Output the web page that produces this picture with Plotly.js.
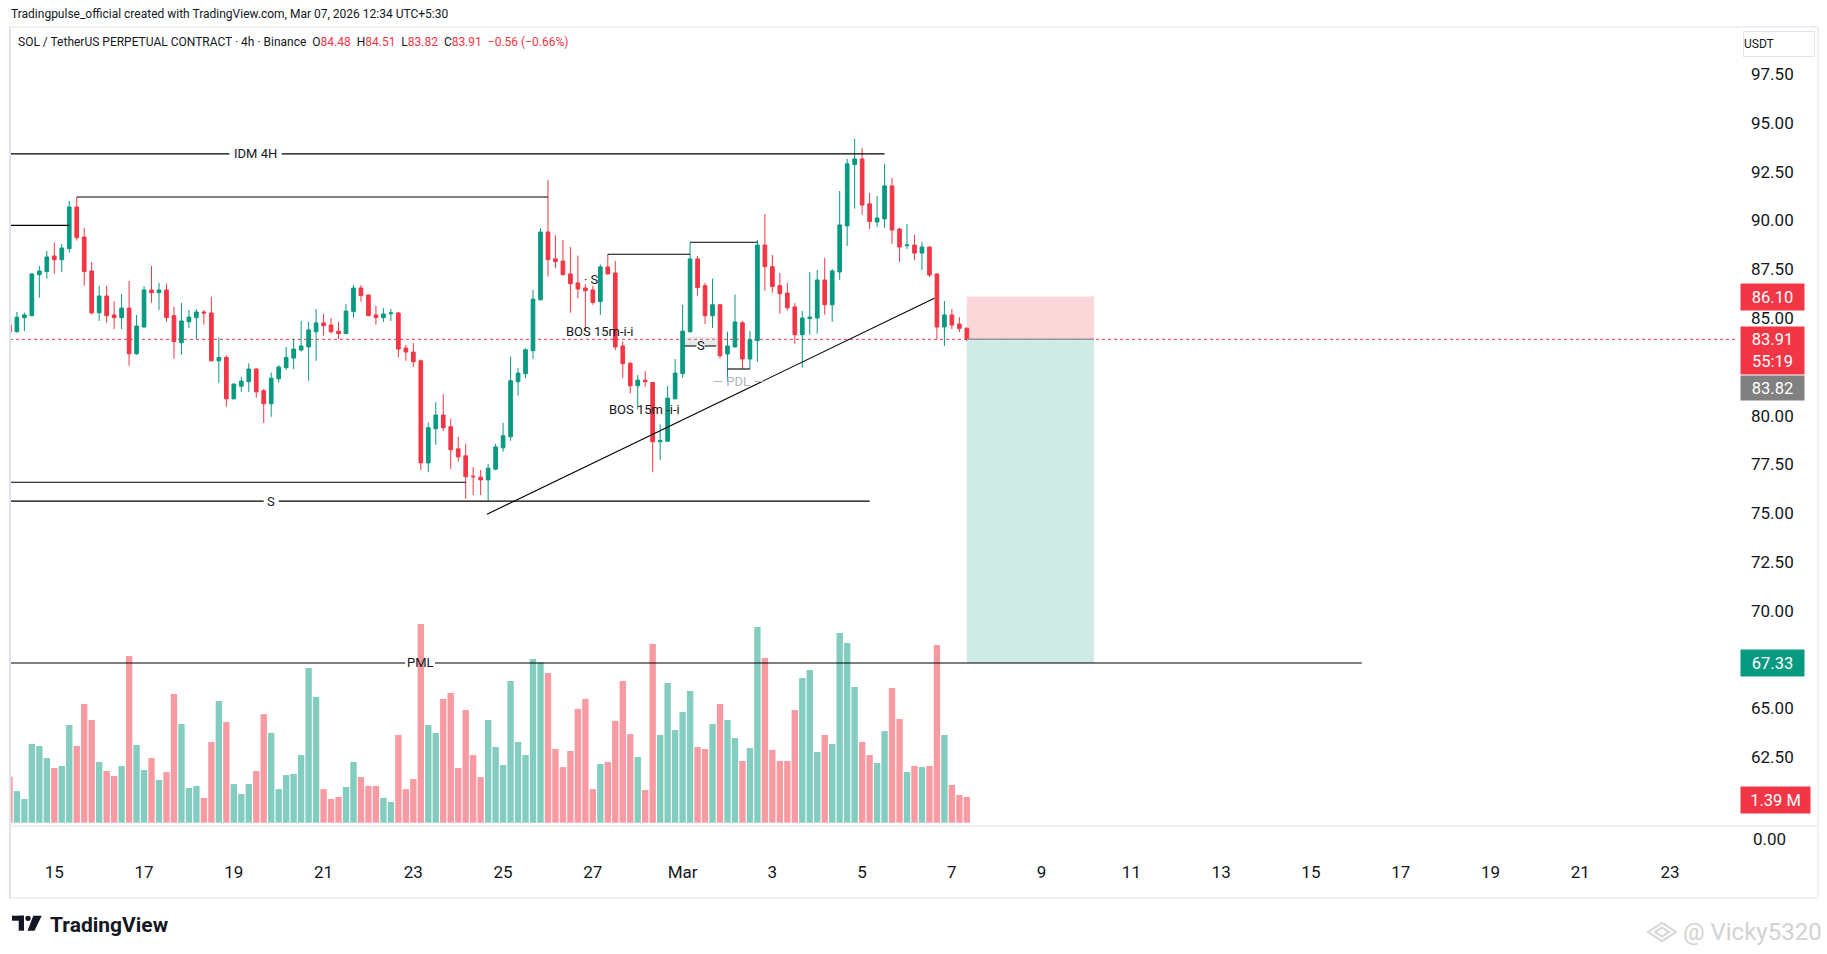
<!DOCTYPE html>
<html><head><meta charset="utf-8">
<script src="https://cdn.plot.ly/plotly-3.0.1.min.js"></script>
<style>html,body{margin:0;padding:0;background:#fff;}#chart{width:1827px;height:954px;}</style>
</head><body><div id="chart"></div>
<script>
// ---- data (SOL/USDT perpetual, 4h bars from 2026-02-14 01:30, UTC+5:30) ----
const openP = [84.64,84.30,85.02,85.12,87.22,87.38,88.18,87.99,88.56,90.69,
89.15,87.41,85.27,86.13,85.16,85.02,85.51,83.17,84.54,86.44,
86.30,86.44,85.12,83.74,84.81,85.02,85.31,85.26,82.81,82.98,
80.86,81.51,81.74,82.39,81.28,80.61,81.89,82.46,82.95,83.36,
83.52,84.30,84.75,84.64,84.33,84.20,85.33,86.54,86.18,85.16,
85.02,85.22,85.26,83.46,83.26,82.81,77.58,79.33,80.03,79.43,
78.30,77.94,76.90,76.85,76.71,77.26,78.35,78.92,81.74,82.15,
83.33,85.94,89.41,88.03,87.92,87.26,86.80,86.54,86.44,85.84,
87.62,87.31,83.57,82.69,81.53,81.82,81.70,78.66,78.69,80.86,
82.15,84.30,88.03,86.66,85.12,85.68,83.16,83.52,84.76,82.90,
83.84,88.74,87.63,86.66,86.28,85.57,84.15,84.97,85.00,86.95,
85.68,87.36,89.72,92.86,93.15,90.85,89.92,90.08,91.77,89.56,
88.71,88.74,88.33,88.64,87.26,84.54,85.16,84.69,84.48];
const highP = [84.75,85.31,85.27,87.29,87.67,88.44,88.85,88.80,91.00,91.20,
89.62,87.87,86.66,86.66,85.87,86.23,86.90,85.16,86.64,87.67,
86.80,86.76,85.58,85.77,85.41,85.46,85.41,86.09,84.01,83.09,
81.64,81.99,82.68,82.42,81.36,82.21,82.59,83.52,83.92,84.85,
84.80,85.46,85.22,85.00,84.80,85.72,86.69,86.69,86.20,85.62,
85.51,85.46,85.31,83.62,83.72,82.87,79.65,80.69,81.10,79.84,
78.92,78.56,77.36,77.21,77.52,78.56,79.63,83.02,82.44,83.45,
86.44,89.60,92.08,89.24,89.00,88.64,88.20,86.73,86.66,87.75,
88.28,87.92,83.79,82.71,82.08,82.28,81.72,79.55,81.52,82.90,
85.68,88.88,88.18,86.80,87.02,85.70,84.30,86.20,84.85,84.33,
89.00,90.33,88.23,87.31,86.80,85.77,85.36,87.36,87.46,88.08,
87.51,91.51,93.15,94.18,93.72,91.41,91.26,92.90,92.18,89.62,
89.82,89.26,88.90,88.66,87.28,85.87,85.46,85.05,84.51];
const lowP = [84.20,84.25,84.33,85.10,86.04,87.02,87.27,87.36,88.35,88.97,
86.66,85.19,84.85,84.76,84.44,84.44,82.56,83.12,84.51,85.79,
85.41,84.81,82.92,83.12,84.49,83.91,84.66,82.79,81.69,80.46,
80.84,81.22,81.22,80.92,79.63,79.94,81.69,82.34,82.39,83.28,
81.79,82.81,84.10,84.20,83.92,84.18,85.02,85.84,85.10,84.66,
84.80,84.85,83.00,82.81,82.49,77.21,77.11,78.51,79.22,77.26,
77.64,75.74,75.93,75.93,75.64,77.21,78.15,78.71,81.02,81.91,
82.90,85.90,87.12,87.55,87.20,85.27,86.01,84.30,85.68,85.16,
87.24,83.36,81.94,81.14,80.32,81.48,77.12,77.72,78.66,80.84,
81.94,84.25,86.15,84.69,84.49,82.93,81.74,83.50,82.39,82.39,
82.76,86.40,86.30,85.22,85.38,83.69,82.46,84.15,84.20,85.17,
84.81,86.95,88.69,90.61,90.30,89.56,89.67,89.62,88.80,87.87,
88.54,87.97,87.46,87.10,83.92,83.57,84.44,84.28,83.82];
const closeP = [84.30,85.04,85.16,87.26,87.41,88.13,87.99,88.59,90.69,89.12,
87.38,85.26,86.13,85.12,85.02,85.51,83.17,84.59,86.44,86.30,
86.44,85.02,83.79,84.85,85.05,85.31,85.26,82.81,82.98,80.86,
81.62,81.77,82.39,81.22,80.61,81.92,82.49,82.98,83.41,83.57,
84.39,84.75,84.61,84.30,84.20,85.36,86.54,86.15,85.12,85.02,
85.21,85.26,83.41,83.26,82.76,77.58,79.38,80.03,79.38,78.25,
77.89,76.87,76.87,76.71,77.31,78.40,78.97,81.79,82.18,83.38,
85.97,89.41,87.99,87.89,87.22,86.76,86.49,86.40,85.80,87.62,
87.26,83.52,82.66,81.53,81.82,81.74,78.66,78.73,80.90,82.18,
84.33,88.03,86.56,85.12,85.68,83.07,83.57,84.80,82.90,83.89,
88.74,87.63,86.61,86.25,85.53,84.15,85.00,85.05,86.95,85.68,
87.41,89.77,92.90,93.15,90.79,89.94,90.13,91.77,89.51,88.64,
88.74,88.33,88.64,87.21,84.54,85.16,84.64,84.47,83.91];
const volumeM = [2.49,1.71,1.28,4.26,4.15,3.50,2.96,3.07,5.29,4.15,
6.43,5.56,3.29,2.80,2.53,3.07,9.03,4.21,2.85,3.50,
2.31,2.74,6.97,5.34,1.88,1.99,1.34,4.37,6.59,5.45,
2.09,1.55,2.09,2.80,5.88,4.86,1.82,2.58,2.64,3.66,
8.38,6.81,1.82,1.28,1.39,1.93,3.29,2.47,1.99,1.99,
1.34,1.12,4.75,1.82,2.36,10.76,5.29,4.86,6.70,7.02,
2.96,6.10,3.66,2.47,5.56,4.10,3.12,7.67,4.37,3.66,
8.86,8.68,8.10,3.99,3.01,3.88,6.16,6.70,1.82,3.18,
3.29,5.51,7.67,4.80,3.56,1.77,9.68,4.75,7.56,5.02,
5.99,7.13,4.10,3.99,5.34,6.43,5.56,4.58,3.34,4.04,
10.60,8.92,3.94,3.34,3.34,6.10,7.83,8.27,3.83,4.75,
4.26,10.27,9.73,7.35,4.37,3.66,3.23,4.96,7.29,5.61,
2.74,3.07,3.01,3.07,9.62,4.75,2.04,1.50,1.39];
const tickDays = ['2026-02-15','2026-02-17','2026-02-19','2026-02-21','2026-02-23','2026-02-25','2026-02-27',
  '2026-03-01','2026-03-03','2026-03-05','2026-03-07','2026-03-09','2026-03-11','2026-03-13','2026-03-15',
  '2026-03-17','2026-03-19','2026-03-21','2026-03-23'];
const tickLabels = ['15','17','19','21','23','25','27','Mar','3','5','7','9','11','13','15','17','19','21','23'];
const priceTicks = [62.5,65,70,72.5,75,77.5,80,85,87.5,90,92.5,95,97.5];
const position = {entry:83.91, stop:86.10, target:67.33, fromBar:128, toBar:145};
const lastInfo = {open:84.48, high:84.51, low:83.82, close:83.91, change:-0.56, pct:-0.66, vol:1.39, countdown:'55:19'};

// ---- helpers ----
const BAR0 = Date.UTC(2026,1,14,1,30);
function barTime(k){ return new Date(BAR0 + Math.round(k*4*3600e3)).toISOString().slice(0,19).replace('T',' '); }
const times = closeP.map((_,i)=>barTime(i));
const PL=10, PR=1736, PT=27, PB=825;
const PX = X => (X-PL)/(PR-PL);
const PY = Y => (PB-Y)/(PB-PT);
const GREEN='#089981', RED='#F23645', INK='#131722', FONT='Roboto, "Liberation Sans", sans-serif';

const candles = {
  type:'candlestick', x:times, open:openP, high:highP, low:lowP, close:closeP,
  increasing:{line:{color:GREEN,width:1}, fillcolor:GREEN},
  decreasing:{line:{color:RED,width:1}, fillcolor:RED},
  whiskerwidth:0, hoverinfo:'skip', showlegend:false, xaxis:'x', yaxis:'y'
};
const volume = {
  type:'bar', x:times, y:volumeM,
  marker:{color: closeP.map((c,i)=> c>=openP[i] ? 'rgba(8,153,129,0.5)' : 'rgba(242,54,69,0.5)'), line:{width:0}},
  hoverinfo:'skip', showlegend:false, xaxis:'x', yaxis:'y2'
};

// drawings
const levelLines = [
  {p:93.41, k0:-2, k1:117, label:'IDM 4H', gap:[29.4,36.4]},
  {p:91.20, k0:9, k1:72},
  {p:89.75, k0:-2, k1:8},
  {p:88.27, k0:80, k1:91},
  {p:88.88, k0:91, k1:100},
  {p:76.59, k0:-2, k1:61},
  {p:75.62, k0:-2, k1:115, label:'S', gap:[34.0,36.0]},
  {p:67.33, k0:-2, k1:180.8, label:'PML', gap:[52.9,56.9]},
  {p:83.57, k0:90.3, k1:94.5, label:'S', gap:[91.85,92.95]},
  {p:82.39, k0:96, k1:99}
];
const trend = {k0:63.85, p0:74.95, k1:123.65, p1:86.01};
const textMarks = [
  {k:78.95, p:84.30, t:'BOS 15m-i-i', c:INK},
  {k:84.97, p:80.32, t:'BOS 15m -i-i', c:INK},
  {k:77.85, p:86.95, t:'· S', c:INK},
  {k:97.4, p:81.73, t:'— PDL —', c:'#B2B5BE'}
];
const fvg = {k0:90.3, k1:94.6, p0:83.61, p1:84.04};

const shapes = [];
const annotations = [];
const blk = {color:'#000000', width:1.1};
levelLines.forEach(L=>{
  if(L.gap){
    shapes.push({type:'line',xref:'x',yref:'y',x0:barTime(L.k0),x1:barTime(L.gap[0]),y0:L.p,y1:L.p,line:blk});
    shapes.push({type:'line',xref:'x',yref:'y',x0:barTime(L.gap[1]),x1:barTime(L.k1),y0:L.p,y1:L.p,line:blk});
    annotations.push({xref:'x',yref:'y',x:barTime((L.gap[0]+L.gap[1])/2),y:L.p,text:L.label,showarrow:false,
      font:{family:FONT,size:13,color:INK},xanchor:'center',yanchor:'middle'});
  } else {
    shapes.push({type:'line',xref:'x',yref:'y',x0:barTime(L.k0),x1:barTime(L.k1),y0:L.p,y1:L.p,line:blk});
  }
});
shapes.push({type:'line',xref:'x',yref:'y',x0:barTime(trend.k0),x1:barTime(trend.k1),y0:trend.p0,y1:trend.p1,line:{color:'#000',width:1.1}});
shapes.push({type:'rect',xref:'x',yref:'y',x0:barTime(fvg.k0),x1:barTime(fvg.k1),y0:fvg.p0,y1:fvg.p1,fillcolor:'rgba(178,181,190,0.3)',line:{width:0},layer:'below'});
textMarks.forEach(m=>annotations.push({xref:'x',yref:'y',x:barTime(m.k),y:m.p,text:m.t,showarrow:false,
  font:{family:FONT,size:13,color:m.c},xanchor:'center',yanchor:'middle'}));

// position tool
shapes.push({type:'rect',xref:'x',yref:'y',x0:barTime(position.fromBar),x1:barTime(position.toBar),y0:position.entry,y1:position.stop,
  fillcolor:'rgba(242,54,69,0.2)',line:{width:0},layer:'below'});
shapes.push({type:'rect',xref:'x',yref:'y',x0:barTime(position.fromBar),x1:barTime(position.toBar),y0:position.target,y1:position.entry,
  fillcolor:'rgba(8,153,129,0.2)',line:{width:0},layer:'below'});
shapes.push({type:'line',xref:'x',yref:'y',x0:barTime(position.fromBar),x1:barTime(position.toBar),y0:position.entry,y1:position.entry,
  line:{color:'#9598A1',width:1.5}});
// last price dotted line
shapes.push({type:'line',xref:'paper',yref:'y',x0:0,x1:1,y0:lastInfo.close,y1:lastInfo.close,line:{color:RED,width:1,dash:'dot'},layer:'below'});

// frame
const frameC='#E0E3EB';
shapes.push({type:'line',xref:'paper',yref:'paper',x0:PX(9),x1:PX(1818),y0:PY(27),y1:PY(27),line:{color:frameC,width:1}});
shapes.push({type:'line',xref:'paper',yref:'paper',x0:PX(9),x1:PX(1818),y0:PY(898),y1:PY(898),line:{color:frameC,width:1}});
shapes.push({type:'line',xref:'paper',yref:'paper',x0:PX(10),x1:PX(10),y0:PY(27),y1:PY(898),line:{color:frameC,width:2}});
shapes.push({type:'line',xref:'paper',yref:'paper',x0:PX(1818),x1:PX(1818),y0:PY(27),y1:PY(898),line:{color:frameC,width:1}});
shapes.push({type:'line',xref:'paper',yref:'paper',x0:PX(10),x1:PX(1818),y0:PY(826),y1:PY(826),line:{color:frameC,width:1}});

// TradingView logo
shapes.push({type:'rect',xref:'paper',yref:'paper',x0:PX(12),x1:PX(24),y0:PY(920.7),y1:PY(915.7),fillcolor:INK,line:{width:0}});
shapes.push({type:'rect',xref:'paper',yref:'paper',x0:PX(18.7),x1:PX(24),y0:PY(930.7),y1:PY(915.7),fillcolor:INK,line:{width:0}});
shapes.push({type:'circle',xref:'paper',yref:'paper',x0:PX(25.3),x1:PX(30.7),y0:PY(921),y1:PY(915.7),fillcolor:INK,line:{width:0}});
shapes.push({type:'path',xref:'paper',yref:'paper',
  path:`M ${PX(33.3)} ${PY(915.7)} L ${PX(41.7)} ${PY(915.7)} L ${PX(34.5)} ${PY(930.7)} L ${PX(27.5)} ${PY(930.7)} Z`,
  fillcolor:INK,line:{width:0}});
// watermark icon
shapes.push({type:'path',xref:'paper',yref:'paper',
  path:`M ${PX(1648)} ${PY(932)} L ${PX(1662)} ${PY(923)} L ${PX(1676)} ${PY(932)} L ${PX(1662)} ${PY(941)} Z`,
  fillcolor:'rgba(0,0,0,0)',line:{color:'#D6D6D6',width:2}});
shapes.push({type:'path',xref:'paper',yref:'paper',
  path:`M ${PX(1655)} ${PY(932)} L ${PX(1662)} ${PY(927.5)} L ${PX(1669)} ${PY(932)} L ${PX(1662)} ${PY(936.5)} Z`,
  fillcolor:'rgba(0,0,0,0)',line:{color:'#D6D6D6',width:2}});

// header & footer texts
const R = v => `<span style="color:${RED}">${v}</span>`;
annotations.push({xref:'paper',yref:'paper',x:PX(9),y:PY(14),xanchor:'left',yanchor:'middle',showarrow:false,
  text:'Tradingpulse_official created with TradingView.com, Mar 07, 2026 12:34 UTC+5:30',font:{family:FONT,size:12,color:INK}});
annotations.push({xref:'paper',yref:'paper',x:PX(16),y:PY(42),xanchor:'left',yanchor:'middle',showarrow:false,
  text:`SOL / TetherUS PERPETUAL CONTRACT · 4h · Binance  O${R(lastInfo.open.toFixed(2))}  H${R(lastInfo.high.toFixed(2))}  L${R(lastInfo.low.toFixed(2))}  C${R(lastInfo.close.toFixed(2))}  ${R('−'+Math.abs(lastInfo.change).toFixed(2)+' (−'+Math.abs(lastInfo.pct).toFixed(2)+'%)')}`,
  font:{family:FONT,size:12,color:INK}});
annotations.push({xref:'paper',yref:'paper',x:PX(48),y:PY(925),xanchor:'left',yanchor:'middle',showarrow:false,
  text:'<b>TradingView</b>',font:{family:FONT,size:21,color:INK}});
annotations.push({xref:'paper',yref:'paper',x:PX(1681),y:PY(932),xanchor:'left',yanchor:'middle',showarrow:false,
  text:'@ Vicky5320',font:{family:FONT,size:24,color:'#D2D2D2'}});

// price-scale labels
const boxX = PX(1740);
function scaleBox(y, yref, text, bg, h, w, shift){
  annotations.push({xref:'paper',yref:yref,x:boxX,y:y,xanchor:'left',yanchor:'middle',yshift:shift||0,showarrow:false,
    text:text,bgcolor:bg,width:w||63,height:h||26,borderpad:0,align:'center',font:{family:FONT,size:16.5,color:'#FFFFFF'}});
}
scaleBox(position.stop,'y',position.stop.toFixed(2),RED);
scaleBox(lastInfo.close,'y',lastInfo.close.toFixed(2)+'<br>'+lastInfo.countdown,RED,47,63,-11);
scaleBox(lastInfo.low,'y',lastInfo.low.toFixed(2),'#808080',24,63,-47);
scaleBox(position.target,'y',position.target.toFixed(2),GREEN);
scaleBox(lastInfo.vol,'y2',lastInfo.vol.toFixed(2)+' M',RED,26,69,-3);
annotations.push({xref:'paper',yref:'paper',x:PX(1751),y:PY(839),xanchor:'left',yanchor:'middle',showarrow:false,
  text:'0.00',font:{family:FONT,size:17,color:INK}});
annotations.push({xref:'paper',yref:'paper',x:PX(1743),y:PY(44),xanchor:'left',yanchor:'middle',showarrow:false,
  text:'USDT',width:70,height:24,align:'left',bgcolor:'#FFFFFF',bordercolor:'#E0E3EB',borderwidth:1,borderpad:0,
  font:{family:FONT,size:12,color:INK}});

const layout = {
  width:1827, height:954,
  margin:{l:PL, r:1827-PR, t:PT, b:954-PB, pad:0},
  paper_bgcolor:'#FFFFFF', plot_bgcolor:'#FFFFFF',
  showlegend:false, bargap:0.15,
  xaxis:{type:'date', range:[barTime(0.078), barTime(230.83)], rangeslider:{visible:false},
    tickvals:tickDays.map(d=>d+' 01:30'), ticktext:tickLabels, ticks:'', showgrid:false, zeroline:false, showline:false,
    tickfont:{family:FONT,size:17,color:INK}, ticklabelstandoff:35, fixedrange:true},
  yaxis:{side:'right', range:[59.03, 99.91], tickvals:priceTicks, ticktext:priceTicks.map(v=>v.toFixed(2)),
    ticks:'', showgrid:false, zeroline:false, showline:false, tickfont:{family:FONT,size:17,color:INK},
    ticklabelstandoff:14, fixedrange:true},
  yaxis2:{overlaying:'y', range:[-0.125, 43.08], visible:false, fixedrange:true},
  shapes:shapes, annotations:annotations
};
Plotly.newPlot('chart',[volume,candles],layout,{displayModeBar:false,staticPlot:true});
</script></body></html>
